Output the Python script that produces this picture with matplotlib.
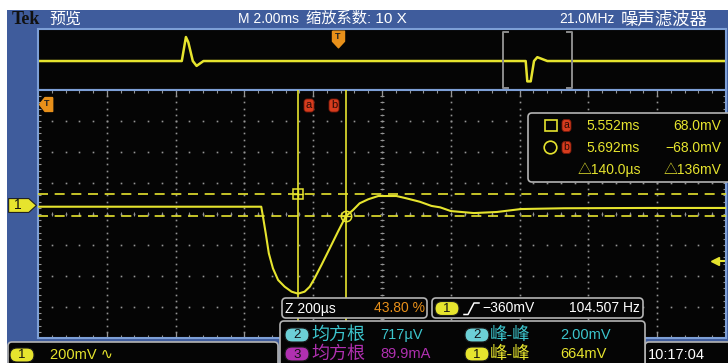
import numpy as np
import matplotlib
matplotlib.use("Agg")
import matplotlib.pyplot as plt
from matplotlib.patches import FancyBboxPatch, Rectangle, Circle
from matplotlib.path import Path
from matplotlib.transforms import blended_transform_factory

plt.rcParams['font.family'] = ['Liberation Sans', 'Noto Sans CJK SC', 'DejaVu Sans']

W, H = 728, 363

# channel 1 inside the zoom window (time in ms, level in mV)
zoom_t = [4.797, 5.446, 5.451, 5.459, 5.468, 5.480, 5.495, 5.514, 5.534, 5.553,
          5.572, 5.587, 5.601, 5.621, 5.645, 5.669, 5.692, 5.713, 5.732, 5.757,
          5.786, 5.839, 5.868, 5.907, 5.941, 5.966, 5.997, 6.064, 6.131, 6.201,
          6.326, 6.576, 6.797]
zoom_mv = [-11, -11, -75, -183, -312, -409, -484, -527, -559, -572,
           -559, -527, -473, -387, -280, -172, -72, -32, 11, 37,
           58, 58, 43, 21, -6, -15, -39, -52, -45, -26,
           -21, -19, -19]

# channel 1 over the whole record (overview strip)
ov_t = [-8.72, -4.54, -4.42, -4.35, -4.22, -4.11, -3.91, 5.457, 5.504, 5.603,
        5.699, 5.795, 6.086, 11.28]
ov_mv = [-11, -11, 619, 480, -11, -139, -11, -11, -545, -545,
         -11, 90, -11, -11]

# scope settings
main_div = 2.0        # M 2.00ms
zoom_factor = 10
zoom_div = main_div / zoom_factor   # Z 200us
zoom_center = 5.797
ov_left = -8.72
volts_div = 200
v_center = -58
trig_mv = -360

# cursors
cur_a_t, cur_a_mv = 5.552, 68.0
cur_b_t, cur_b_mv = 5.692, -68.0

# measurements
meas_rows = [
    ("2", "均方根", "717µV", "2", "峰-峰", "2.00mV"),
    ("3", "均方根", "89.9mA", "1", "峰-峰", "664mV"),
]

BLUE = '#3f5c9c'
FRAME = '#7d9fd6'
YEL = '#e6e42e'
GRID = '#959595'
ORANGE = '#e8901a'
RED = '#d63c1e'
CYAN = '#3cc4cc'
CYAN_B = '#6cd0d6'
MAG = '#b030b0'
GRAYB = '#b4b4b4'

fig = plt.figure(figsize=(W / 100, H / 100), dpi=100)
fig.patch.set_facecolor('white')


def px_axes(x0, y0, x1, y1, z):
    return fig.add_axes([x0 / W, 1 - y1 / H, (x1 - x0) / W, (y1 - y0) / H], zorder=z)


under = fig.add_axes([0, 0, 1, 1], zorder=0)
over = fig.add_axes([0, 0, 1, 1], zorder=3)
for a in (under, over):
    a.set_xlim(0, W)
    a.set_ylim(H, 0)
    a.axis('off')


def box(a, x0, y0, x1, y1, fc='#050505', ec=GRAYB, r=4, lw=1.2, z=2):
    a.add_patch(FancyBboxPatch((x0, y0), x1 - x0, y1 - y0,
                               boxstyle=f"round,pad=0,rounding_size={r}",
                               fc=fc, ec=ec, lw=lw, zorder=z))


def badge(a, xc, yc, label, fc, tc='#111111', w=24, h=14):
    box(a, xc - w / 2, yc - h / 2, xc + w / 2, yc + h / 2, fc=fc, ec='#1a1a1a', r=h / 2, lw=0.8, z=4)
    a.text(xc, yc + 0.5, label, ha='center', va='center', fontsize=9.5, color=tc, zorder=5)


# blue instrument frame
under.add_patch(Rectangle((7, 10), W - 7, H - 10, fc=BLUE, ec='none'))

# top status bar
under.text(12, 19, "Tek", family=['Liberation Serif'], fontweight='bold', fontsize=13,
           color='#111111', va='center')
under.text(49, 19, "预览", color='white', fontsize=11.5, va='center')
under.text(238, 19, f"M {main_div:.2f}ms", color='white', fontsize=10, va='center')
under.text(306, 19, f"缩放系数: {zoom_factor} X", color='white', fontsize=11, va='center')
under.text(559, 19, "21.0MHz", color='white', fontsize=10, va='center')
under.text(621, 19, "噪声滤波器", color='white', fontsize=12.5, va='center')

# overview strip
ov = px_axes(38, 29, 726, 90, 1)
ov.set_facecolor('#050505')
ov.plot(ov_t, ov_mv, color=YEL, lw=1.8)
ov.set_xlim(ov_left, ov_left + 10 * main_div)
ov.set_ylim(-771, 829)

t_lo, t_hi = zoom_center - 5 * zoom_div, zoom_center + 5 * zoom_div
xt = ov.get_xaxis_transform()
for xb, s in ((t_lo, 1), (t_hi, -1)):
    ov.plot([xb + s * 0.15, xb, xb, xb + s * 0.15], [0.95, 0.95, 0.04, 0.04],
            transform=xt, color='#8c8c8c', lw=1.4)

down_pent = Path([(-0.65, 0.9), (0.65, 0.9), (0.65, -0.2), (0, -0.9), (-0.65, -0.2), (-0.65, 0.9)])
ov.plot([0], [0.84], transform=xt, marker=down_pent, ms=12, color=ORANGE, clip_on=False)
ov.text(0, 0.87, "T", transform=xt, ha='center', va='center', fontsize=6.5,
        fontweight='bold', color='#222222')

# zoomed graticule
ax = px_axes(38, 90, 726, 338, 1)
ax.set_facecolor('#050505')
v_lo, v_hi = v_center - 4 * volts_div, v_center + 4 * volts_div
ax.set_xlim(t_lo, t_hi)
ax.set_ylim(v_lo, v_hi)

maj_t = t_lo + zoom_div * np.arange(1, 10)
maj_v = v_lo + volts_div * np.arange(1, 8)
min_t = t_lo + zoom_div / 5 * np.arange(1, 50)
min_v = v_lo + volts_div / 5 * np.arange(1, 40)

gt, gv = np.meshgrid(maj_t, min_v)
ax.plot(gt.ravel(), gv.ravel(), ls='none', marker='s', ms=1.2, mew=0, color=GRID)
gt, gv = np.meshgrid(min_t, maj_v)
ax.plot(gt.ravel(), gv.ravel(), ls='none', marker='s', ms=1.2, mew=0, color=GRID)

# centre cross and border ticks
ax.plot([zoom_center] * len(min_v), min_v, ls='none', marker='_', ms=3.5, mew=0.7, color=GRID)
ax.plot(min_t, [v_center] * len(min_t), ls='none', marker='|', ms=3.5, mew=0.7, color=GRID)
for yb in (v_lo, v_hi):
    ax.plot(min_t, [yb] * len(min_t), ls='none', marker='|', ms=5, mew=0.8, color=GRID)
    ax.plot(maj_t, [yb] * len(maj_t), ls='none', marker='|', ms=9, mew=0.9, color=GRID)
for xb in (t_lo, t_hi):
    ax.plot([xb] * len(min_v), min_v, ls='none', marker='_', ms=5, mew=0.8, color=GRID)

# cursors
ax.axvline(cur_a_t, color=YEL, lw=1.2, zorder=3)
ax.axvline(cur_b_t, color=YEL, lw=1.2, zorder=3)
ax.axhline(cur_a_mv, color=YEL, lw=1.2, ls=(0, (6, 4)), zorder=3)
ax.axhline(cur_b_mv, color=YEL, lw=1.2, ls=(0, (6, 4)), zorder=3)

ax.plot(zoom_t, zoom_mv, color=YEL, lw=1.5, zorder=4)

ax.plot(cur_a_t, cur_a_mv, marker='s', ms=7, mfc='none', mec=YEL, mew=1.1, zorder=5)
ax.plot(cur_a_t, cur_a_mv, marker='+', ms=7, mec=YEL, mew=1.0, zorder=5)
ax.plot(cur_b_t, cur_b_mv, marker='o', ms=7.5, mfc='none', mec=YEL, mew=1.1, zorder=5)
ax.plot(cur_b_t, cur_b_mv, marker='+', ms=7, mec=YEL, mew=1.0, zorder=5)

# channel ground marker and trigger level arrow
bt = blended_transform_factory(ax.transAxes, ax.transData)
right_pent = Path([(-1, -0.5), (0.45, -0.5), (1, 0), (0.45, 0.5), (-1, 0.5), (-1, -0.5)])
ax.plot([-0.0235], [0], transform=bt, marker=right_pent, ms=20, color=YEL,
        mec='#222222', mew=0.8, clip_on=False)
ax.text(-0.029, 0, "1", transform=bt, ha='center', va='center', fontsize=10,
        color='#111111', clip_on=False)
ax.plot([0.984, 0.999], [trig_mv, trig_mv], transform=bt, color=YEL, lw=1.5)
ax.plot([0.984], [trig_mv], transform=bt, marker='<', ms=6, color=YEL)

for a in (ax, ov):
    a.set_xticks([])
    a.set_yticks([])
    for sp in a.spines.values():
        sp.set_color(FRAME)
        sp.set_linewidth(1.5)

# trigger position tag (off-screen left)
left_pent = Path([(0.8, 0.9), (-0.2, 0.9), (-0.9, 0), (-0.2, -0.9), (0.8, -0.9), (0.8, 0.9)])
over.plot([46], [103.5], marker=left_pent, ms=10, color=ORANGE)
over.text(47, 104, "T", ha='center', va='center', fontsize=6.5, fontweight='bold', color='#222222')

# cursor tags
for xc, lab in ((309, "a"), (334, "b")):
    box(over, xc - 5, 99, xc + 5, 112, fc=RED, ec='#7a1a0a', r=3, lw=0.6)
    over.text(xc, 105, lab, ha='center', va='center', fontsize=8, color='#2a0a05', zorder=5)


def minus(s):
    return s.replace('-', '−')


# cursor readout
box(over, 528, 113, 745, 182)
over.add_patch(Rectangle((545, 119.5), 11.5, 11.5, fill=False, ec=YEL, lw=1.2, zorder=4))
over.add_patch(Circle((550.5, 147.5), 6.3, fill=False, ec=YEL, lw=1.2, zorder=4))
for yc, lab, tv, mv in ((125.5, "a", cur_a_t, cur_a_mv), (147.5, "b", cur_b_t, cur_b_mv)):
    box(over, 562, yc - 6, 571, yc + 6, fc=RED, ec='#7a1a0a', r=3, lw=0.6, z=4)
    over.text(566.5, yc, lab, ha='center', va='center', fontsize=7.5, color='#2a0a05', zorder=5)
    over.text(586, yc, f"{tv:.3f}ms", color=YEL, fontsize=10, va='center', zorder=5)
    over.text(721, yc, minus(f"{mv:.1f}mV"), color=YEL, fontsize=10, va='center', ha='right', zorder=5)
over.text(641, 170, f"△{(cur_b_t - cur_a_t) * 1000:.1f}µs", color=YEL, fontsize=10,
          va='center', ha='right', zorder=5)
over.text(721, 170, f"△{abs(cur_a_mv - cur_b_mv):.0f}mV", color=YEL, fontsize=10,
          va='center', ha='right', zorder=5)

# zoom and trigger readouts
box(over, 282, 298, 427, 318)
over.text(285, 308.5, f"Z {zoom_div * 1000:.0f}µs", color='white', fontsize=10, va='center', zorder=5)
over.text(425, 308.5, "43.80 %", color=ORANGE, fontsize=10, va='center', ha='right', zorder=5)
box(over, 432, 298, 643, 318)
badge(over, 447, 308.5, "1", YEL)
over.plot([464, 468, 474, 479], [314.5, 314.5, 303, 303], color='white', lw=1.1, zorder=5)
over.text(482, 308.5, minus(f"{trig_mv}mV"), color='white', fontsize=10, va='center', zorder=5)
over.text(640, 308.5, "104.507 Hz", color='white', fontsize=10, va='center', ha='right', zorder=5)

# measurement table
box(over, 280, 321, 645, 375)
row_colors = [(CYAN, CYAN_B, CYAN, CYAN_B), (MAG, MAG, YEL, YEL)]
for (b1, n1, v1, b2, n2, v2), (c1, bc1, c2, bc2), yc in zip(meas_rows, row_colors, (335, 354)):
    badge(over, 297, yc, b1, bc1)
    over.text(311, yc, n1, color=c1, fontsize=13, va='center', zorder=5)
    over.text(380, yc, v1, color=c1, fontsize=10.5, va='center', zorder=5)
    badge(over, 477, yc, b2, bc2)
    over.text(490, yc, n2, color=c2, fontsize=12.5, va='center', zorder=5)
    over.text(560, yc, v2, color=c2, fontsize=10.5, va='center', zorder=5)

# channel scale and clock
box(under, 8, 342, 278, 375)
badge(under, 22, 355, "1", YEL)
under.text(50, 355, f"{volts_div}mV ∿", color=YEL, fontsize=10.5, va='center', zorder=5)
box(under, 645, 342, 745, 375)
under.text(648, 355, "10:17:04", color='white', fontsize=10.5, va='center', zorder=5)

fig.savefig("out.png", dpi=100)
